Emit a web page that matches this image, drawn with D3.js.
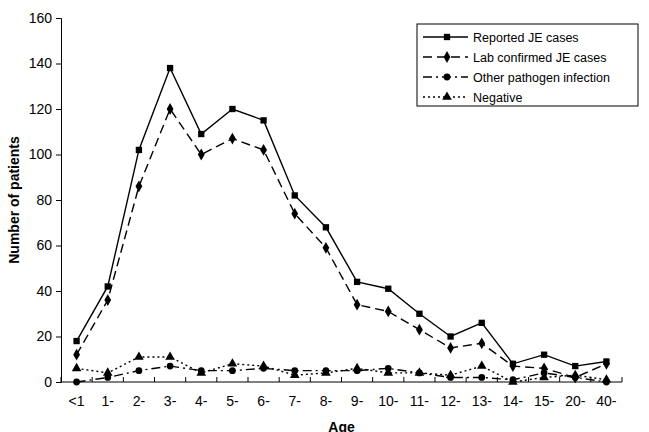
<!DOCTYPE html>
<html><head><meta charset="utf-8">
<script src="https://cdn.jsdelivr.net/npm/d3@7"></script>
<style>body{margin:0;background:#fff}text{font-family:"Liberation Sans",Arial,sans-serif}</style>
</head><body><div id="chart"></div>
<script>
var ages = ["<1","1-","2-","3-","4-","5-","6-","7-","8-","9-","10-","11-","12-","13-","14-","15-","20-","40-"];
var reported = [18,42,102,138,109,120,115,82,68,44,41,30,20,26,8,12,7,9];
var labConfirmed = [12,36,86,120,100,107,102,74,59,34,31,23,15,17,7,6,2,8];
var otherPathogen = [0,2,5,7,5,5,6,5,5,5,6,4,2,2,1,4,2,0];
var negative = [6,4,11,11,4,8,7,3,4,6,4,4,3,7,0,2,3,1];
var yTicks = [0,20,40,60,80,100,120,140,160];

var svgWidth = 649, svgHeight = 432;
var margin = {top: 18, right: 27, bottom: 50, left: 61};
var width = svgWidth - margin.left - margin.right;
var height = svgHeight - margin.top - margin.bottom;

var svg = d3.select("#chart").append("svg")
  .attr("width", svgWidth).attr("height", svgHeight);
var g = svg.append("g").attr("transform", `translate(${margin.left},${margin.top})`);

var x = d3.scalePoint().domain(ages).range([0, width]).padding(0.5);
var y = d3.scaleLinear().domain([0, 160]).range([height, 0]);
var step = x.step();

// axes
g.append("g").call(d3.axisLeft(y).tickValues(yTicks).tickSize(5).tickPadding(4))
  .call(a => a.selectAll("text").attr("font-size", 14).attr("fill", "#000"))
  .call(a => a.selectAll("line,path").attr("stroke", "#000"));

var xa = g.append("g").attr("transform", `translate(0,${height})`);
xa.append("line").attr("x1", 0).attr("x2", width).attr("stroke", "#000");
xa.selectAll(".tk").data(d3.range(ages.length + 1)).enter().append("line")
  .attr("x1", i => i * step).attr("x2", i => i * step)
  .attr("y1", 0).attr("y2", -5).attr("stroke", "#000");
xa.selectAll(".lb").data(ages).enter().append("text")
  .attr("x", d => x(d)).attr("y", 24).attr("text-anchor", "middle")
  .attr("font-size", 14).text(d => d);

g.append("text").attr("x", width / 2).attr("y", height + 50)
  .attr("text-anchor", "middle").attr("font-size", 14).attr("font-weight", "bold").text("Age");
g.append("text").attr("transform", "rotate(-90)").attr("x", -height / 2).attr("y", -42)
  .attr("text-anchor", "middle").attr("font-size", 14).attr("font-weight", "bold").text("Number of  patients");

var series = [
  {name: "Reported JE cases", values: reported, dash: null, shape: d3.symbolSquare, size: 40},
  {name: "Lab confirmed JE cases", values: labConfirmed, dash: "9,5", shape: d3.symbolDiamond, size: 40},
  {name: "Other pathogen infection", values: otherPathogen, dash: "9,4,2,4", shape: d3.symbolCircle, size: 36},
  {name: "Negative", values: negative, dash: "2,3", shape: d3.symbolTriangle, size: 40}
];

var line = d3.line().x((d, i) => x(ages[i])).y(d => y(d));
series.forEach(function(s) {
  g.append("path").datum(s.values).attr("d", line).attr("fill", "none")
    .attr("stroke", "#000").attr("stroke-width", 1.4).attr("stroke-dasharray", s.dash);
  g.selectAll(null).data(s.values).enter().append("path")
    .attr("d", d3.symbol().type(s.shape).size(s.size))
    .attr("transform", (d, i) => `translate(${x(ages[i])},${y(d)})`).attr("fill", "#000");
});

// legend
var lg = svg.append("g").attr("transform", "translate(417,24)");
lg.append("rect").attr("width", 221).attr("height", 82).attr("fill", "#fff").attr("stroke", "#000");
series.forEach(function(s, i) {
  var yy = 13 + i * 20;
  lg.append("line").attr("x1", 6).attr("x2", 51).attr("y1", yy).attr("y2", yy)
    .attr("stroke", "#000").attr("stroke-width", 1.4).attr("stroke-dasharray", s.dash);
  lg.append("path").attr("d", d3.symbol().type(s.shape).size(s.size))
    .attr("transform", `translate(30,${yy})`);
  lg.append("text").attr("x", 56).attr("y", yy + 4.5).attr("font-size", 12.5).text(s.name);
});
</script></body></html>
